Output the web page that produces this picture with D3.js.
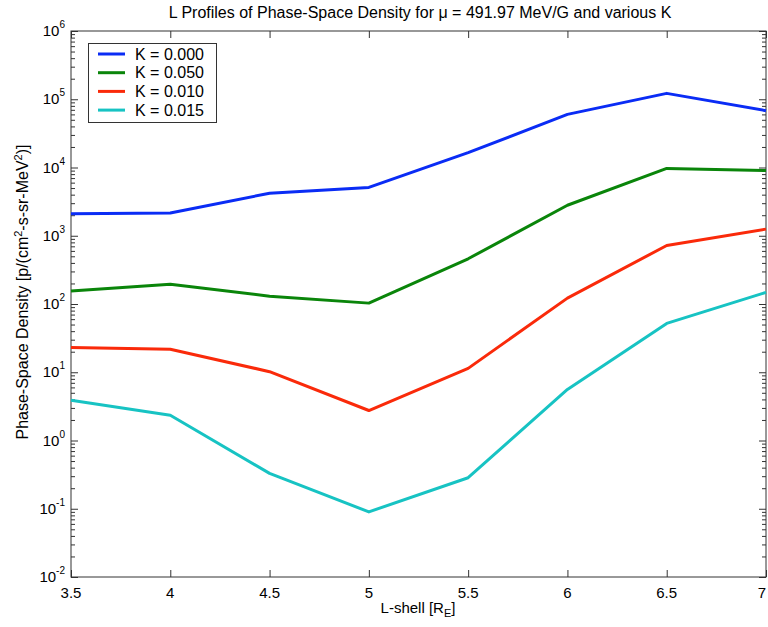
<!DOCTYPE html>
<html>
<head>
<meta charset="utf-8">
<script src="https://cdn.jsdelivr.net/npm/d3@7"></script>
<style>
  body { margin: 0; background: #fff; }
  svg text { font-family: Arial, "Liberation Sans", sans-serif; fill: #000; }
</style>
</head>
<body>
<svg id="chart" width="768" height="627"></svg>
<script>
var lShell = [3.5, 4, 4.5, 5, 5.5, 6, 6.5, 7];
var kLabels = ['K = 0.000', 'K = 0.050', 'K = 0.010', 'K = 0.015'];
var kColors = ['#0a2cf5', '#0a850a', '#fa2a0a', '#17c3c3'];
var psdK000 = [2100, 2150, 4200, 5100, 16500, 60000, 122000, 68000];
var psdK050 = [155, 195, 130, 103, 460, 2800, 9700, 9000];
var psdK010 = [23, 21.7, 10.2, 2.75, 11.4, 122, 720, 1250];
var psdK015 = [3.9, 2.35, 0.33, 0.09, 0.285, 5.6, 52, 148];
var xTicks = [3.5, 4, 4.5, 5, 5.5, 6, 6.5, 7];
var yDecades = [-2, -1, 0, 1, 2, 3, 4, 5, 6];

var series = [psdK000, psdK050, psdK010, psdK015];

var svg = d3.select('#chart');
var plotLeft = 71, plotRight = 766, plotTop = 31, plotBottom = 577;

var x = d3.scaleLinear().domain([3.5, 7]).range([plotLeft, plotRight]);
var y = d3.scaleLog().domain([1e-2, 1e6]).range([plotBottom, plotTop]);

// minor ticks on the log axis
var minor = [];
yDecades.slice(0, -1).forEach(function(e) {
  for (var m = 2; m <= 9; m++) minor.push(m * Math.pow(10, e));
});
var major = yDecades.map(function(e) { return Math.pow(10, e); });

var axisColor = '#333';

function styleAxis(g) {
  g.select('.domain').remove();
  g.selectAll('line').attr('stroke', axisColor).attr('stroke-width', 1);
}

// y ticks, left and right, pointing inward
svg.append('g').attr('transform', 'translate(' + plotLeft + ',0)')
  .call(d3.axisLeft(y).tickValues(minor).tickSize(-4).tickFormat(''))
  .call(styleAxis);
svg.append('g').attr('transform', 'translate(' + plotLeft + ',0)')
  .call(d3.axisLeft(y).tickValues(major).tickSize(-7).tickFormat(''))
  .call(styleAxis);
svg.append('g').attr('transform', 'translate(' + plotRight + ',0)')
  .call(d3.axisRight(y).tickValues(minor).tickSize(-4).tickFormat(''))
  .call(styleAxis);
svg.append('g').attr('transform', 'translate(' + plotRight + ',0)')
  .call(d3.axisRight(y).tickValues(major).tickSize(-7).tickFormat(''))
  .call(styleAxis);

// x ticks bottom and top
svg.append('g').attr('transform', 'translate(0,' + plotBottom + ')')
  .call(d3.axisBottom(x).tickValues(xTicks).tickSize(-7).tickFormat(''))
  .call(styleAxis);
svg.append('g').attr('transform', 'translate(0,' + plotTop + ')')
  .call(d3.axisTop(x).tickValues(xTicks).tickSize(-7).tickFormat(''))
  .call(styleAxis);

// frame
svg.append('rect')
  .attr('x', plotLeft).attr('y', plotTop)
  .attr('width', plotRight - plotLeft).attr('height', plotBottom - plotTop)
  .attr('fill', 'none').attr('stroke', axisColor).attr('stroke-width', 1);

// y tick labels 10^n
yDecades.forEach(function(e) {
  var t = svg.append('text')
    .attr('x', plotLeft - 6)
    .attr('y', y(Math.pow(10, e)) + 5)
    .attr('text-anchor', 'end')
    .style('font-size', '15px');
  t.append('tspan').text('10');
  t.append('tspan').attr('dy', -8).style('font-size', '10px').text(String(e));
});

// x tick labels (last one nudged so it stays on the page)
svg.selectAll('.xlab').data(xTicks).enter().append('text')
  .attr('class', 'xlab')
  .attr('x', function(d) { return Math.min(x(d), 762); })
  .attr('y', plotBottom + 21)
  .attr('text-anchor', 'middle')
  .style('font-size', '15px')
  .text(function(d) { return d; });

// lines
var line = d3.line()
  .x(function(d, i) { return x(lShell[i]); })
  .y(function(d) { return y(d); });

series.forEach(function(s, i) {
  svg.append('path')
    .datum(s)
    .attr('d', line)
    .attr('fill', 'none')
    .attr('stroke', kColors[i])
    .attr('stroke-width', 3)
    .attr('stroke-linejoin', 'round');
});

// title
var title = svg.append('text')
  .attr('x', 420).attr('y', 18)
  .attr('text-anchor', 'middle')
  .style('font-size', '16px');
title.append('tspan').text('L Profiles of Phase-Space Density for ');
title.append('tspan').text('\u03bc');
title.append('tspan').text(' = 491.97 MeV/G and various K');

// x label
var xl = svg.append('text')
  .attr('x', 418).attr('y', 613)
  .attr('text-anchor', 'middle')
  .style('font-size', '15px');
xl.append('tspan').text('L-shell [R');
xl.append('tspan').attr('dy', 4).style('font-size', '11px').text('E');
xl.append('tspan').attr('dy', -4).text(']');

// y label
var yl = svg.append('text')
  .attr('transform', 'translate(28,292) rotate(-90)')
  .attr('text-anchor', 'middle')
  .style('font-size', '16px');
yl.append('tspan').text('Phase-Space Density [p/(cm');
yl.append('tspan').attr('dy', -6).style('font-size', '11px').text('2');
yl.append('tspan').attr('dy', 6).text('-s-sr-MeV');
yl.append('tspan').attr('dy', -6).style('font-size', '11px').text('2');
yl.append('tspan').attr('dy', 6).text(')]');

// legend
var legend = svg.append('g');
legend.append('rect')
  .attr('x', 88.5).attr('y', 43.5)
  .attr('width', 128).attr('height', 79)
  .attr('fill', '#fff').attr('stroke', axisColor).attr('stroke-width', 1);
kLabels.forEach(function(k, i) {
  var ly = 54 + i * 18.7;
  legend.append('line')
    .attr('x1', 98).attr('x2', 125)
    .attr('y1', ly).attr('y2', ly)
    .attr('stroke', kColors[i]).attr('stroke-width', 3);
  legend.append('text')
    .attr('x', 135).attr('y', ly + 5.5)
    .style('font-size', '16px')
    .text(k);
});
</script>
</body>
</html>
